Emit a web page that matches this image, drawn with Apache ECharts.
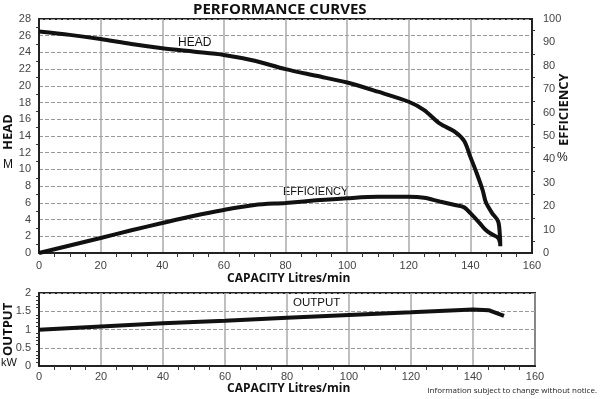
<!DOCTYPE html>
<html>
<head>
<meta charset="utf-8">
<script src="https://cdn.jsdelivr.net/npm/echarts@6/dist/echarts.min.js"></script>
<style>
  html, body { margin: 0; padding: 0; background: #fff; }
  #main { width: 600px; height: 399px; }
</style>
</head>
<body>
<div id="main"></div>
<script>
// capacity (L/min) vs head (m)
var headCap = [0, 10, 20, 30, 40, 50, 60, 70, 80, 90, 100, 110, 120, 125, 130, 135, 138, 140, 142, 144, 145, 147, 149, 149.6, 149.7];
var headVal = [26.5, 26.1, 25.6, 25.0, 24.5, 24.1, 23.7, 23.0, 22.0, 21.2, 20.4, 19.3, 18.1, 17.1, 15.5, 14.5, 13.4, 11.5, 9.6, 7.5, 6.1, 4.8, 3.8, 2.0, 0.8];

// capacity vs efficiency (%)
var effCap = [0, 10, 20, 30, 40, 50, 60, 70, 80, 90, 100, 110, 120, 125, 130, 135, 138, 140, 143, 145, 147, 149, 149.6];
var effVal = [0, 3.2, 6.4, 9.7, 12.8, 15.8, 18.4, 20.5, 21.4, 22.5, 23.4, 24, 24, 23.6, 22, 20.5, 19.5, 17, 12.8, 9.8, 8, 6.5, 4.5];

// capacity vs output (kW)
var outCap = [0, 20, 40, 60, 80, 100, 120, 140, 145, 150];
var outVal = [0.99, 1.08, 1.17, 1.24, 1.32, 1.40, 1.47, 1.55, 1.53, 1.37];

function pairs(xs, ys) {
  return xs.map(function (x, i) { return [x, ys[i]]; });
}

var chart = echarts.init(document.getElementById('main'));
var tickFont = { color: '#444', fontSize: 11, fontFamily: 'Liberation Sans' };
var boldFont = 'Open Sans';

function xAxisFor(grid, margin) {
  return {
    gridIndex: grid, type: 'value', min: 0, max: 160, interval: 20,
    axisLine: { show: true, onZero: false, lineStyle: { color: '#222', width: 2 } },
    axisTick: { show: false },
    minorTick: { show: true, splitNumber: 4, length: 4, lineStyle: { color: '#333' } },
    axisLabel: Object.assign({ margin: margin }, tickFont),
    splitLine: { show: true, lineStyle: { color: '#aaa', width: 1.5 } }
  };
}

var option = {
  animation: false,
  grid: [
    { left: 39, right: 68, top: 19, height: 234, show: true, borderColor: '#222', borderWidth: 2 },
    { left: 39, right: 65, top: 293, height: 73, show: true, borderColor: '#222', borderWidth: 2 }
  ],
  xAxis: [xAxisFor(0, 7), xAxisFor(1, 5)],
  yAxis: [
    {
      gridIndex: 0, type: 'value', min: 0, max: 28, interval: 2,
      axisLine: { show: true, lineStyle: { color: '#222', width: 2 } },
      axisTick: { show: false },
      minorTick: { show: true, splitNumber: 2, length: 3, lineStyle: { color: '#333' } },
      axisLabel: Object.assign({ margin: 8 }, tickFont),
      splitLine: { show: true, lineStyle: { color: '#999', type: [4, 2] } }
    },
    {
      gridIndex: 0, type: 'value', min: 0, max: 100, interval: 10, position: 'right',
      axisLine: { show: true, lineStyle: { color: '#222', width: 2 } },
      axisTick: { show: false },
      minorTick: { show: true, splitNumber: 2, length: 3, lineStyle: { color: '#333' } },
      axisLabel: Object.assign({ margin: 11 }, tickFont),
      splitLine: { show: false }
    },
    {
      gridIndex: 1, type: 'value', min: 0, max: 2, interval: 0.5,
      axisLine: { show: true, lineStyle: { color: '#222', width: 2 } },
      axisTick: { show: false },
      minorTick: { show: true, splitNumber: 5, length: 3, lineStyle: { color: '#333' } },
      axisLabel: Object.assign({ margin: 8 }, tickFont),
      splitLine: { show: true, lineStyle: { color: '#999', type: [4, 2] } }
    }
  ],
  series: [
    {
      name: 'HEAD', type: 'line', xAxisIndex: 0, yAxisIndex: 0,
      data: pairs(headCap, headVal), smooth: 0.3, symbol: 'none',
      lineStyle: { color: '#111', width: 4 }
    },
    {
      name: 'EFFICIENCY', type: 'line', xAxisIndex: 0, yAxisIndex: 1,
      data: pairs(effCap, effVal), smooth: 0.3, symbol: 'none',
      lineStyle: { color: '#111', width: 4 }
    },
    {
      name: 'OUTPUT', type: 'line', xAxisIndex: 1, yAxisIndex: 2,
      data: pairs(outCap, outVal), smooth: false, symbol: 'none',
      lineStyle: { color: '#111', width: 4 }
    }
  ],
  graphic: [
    { type: 'text', x: 193, y: 2, style: { text: 'PERFORMANCE CURVES', font: 'bold 15px ' + boldFont, fill: '#111' } },
    { type: 'text', x: 178, y: 37, style: { text: 'HEAD', font: '12px Liberation Sans', fill: '#111' } },
    { type: 'text', x: 283, y: 186, style: { text: 'EFFICIENCY', font: '11px Liberation Sans', fill: '#111' } },
    { type: 'text', x: 293, y: 297, style: { text: 'OUTPUT', font: '11.5px Liberation Sans', fill: '#111' } },
    { type: 'text', x: 2, y: 150, rotation: Math.PI / 2, style: { text: 'HEAD', font: 'bold 13px ' + boldFont, fill: '#111' } },
    { type: 'text', x: 3, y: 159, style: { text: 'M', font: '12px Liberation Sans', fill: '#111' } },
    { type: 'text', x: 558, y: 146, rotation: Math.PI / 2, style: { text: 'EFFICIENCY', font: 'bold 13px ' + boldFont, fill: '#111' } },
    { type: 'text', x: 557, y: 152, style: { text: '%', font: '12px Liberation Sans', fill: '#111' } },
    { type: 'text', x: 2, y: 356, rotation: Math.PI / 2, style: { text: 'OUTPUT', font: 'bold 13px ' + boldFont, fill: '#111' } },
    { type: 'text', x: 1, y: 357, style: { text: 'kW', font: '11px Liberation Sans', fill: '#111' } },
    { type: 'text', x: 227, y: 273, style: { text: 'CAPACITY Litres/min', font: 'bold 12px ' + boldFont, fill: '#111' } },
    { type: 'text', x: 227, y: 383, style: { text: 'CAPACITY Litres/min', font: 'bold 12px ' + boldFont, fill: '#111' } },
    { type: 'text', x: 597, y: 387, style: { text: 'Information subject to change without notice.', font: '8px Open Sans', fill: '#222', align: 'right' } }
  ]
};

chart.setOption(option);
</script>
</body>
</html>
